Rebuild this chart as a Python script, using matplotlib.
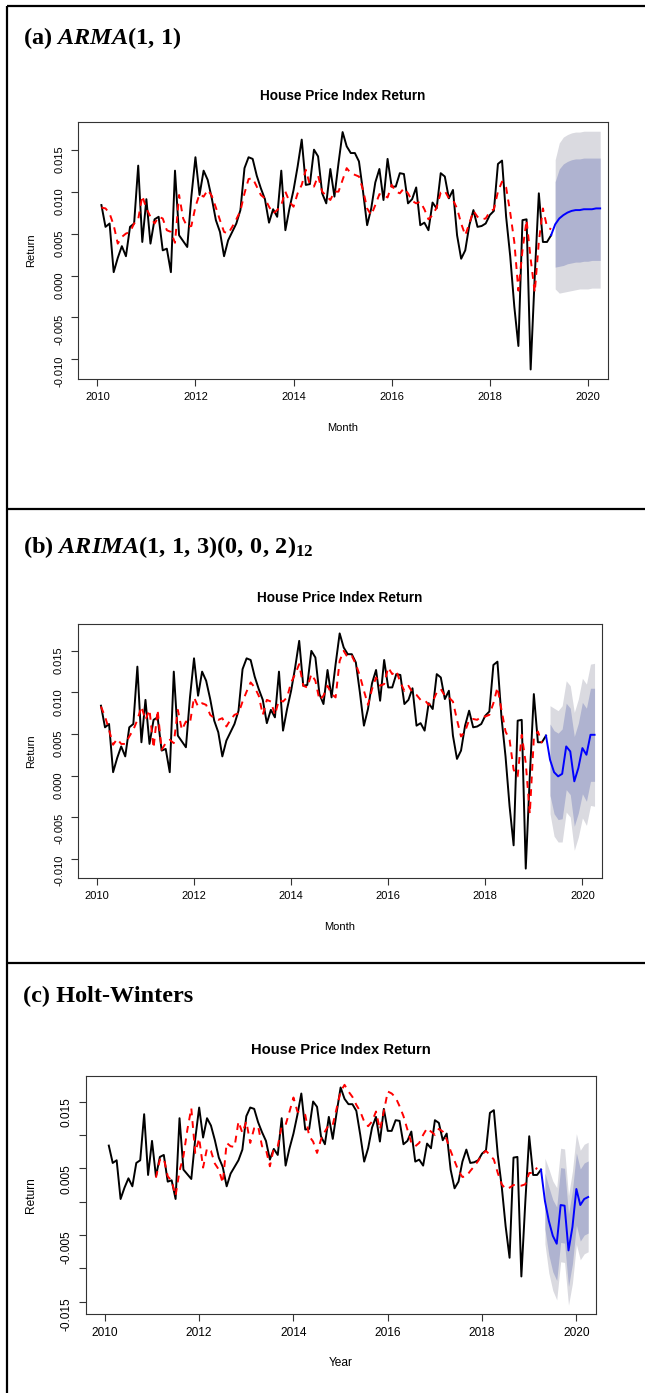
import numpy as np
import matplotlib
matplotlib.use('Agg')
import matplotlib.pyplot as plt

plt.rcParams['font.family'] = 'Liberation Sans'
plt.rcParams['axes.unicode_minus'] = False
plt.rcParams['mathtext.fontset'] = 'custom'
plt.rcParams['mathtext.rm'] = 'Liberation Serif:bold'
plt.rcParams['mathtext.it'] = 'Liberation Serif:italic:bold'
plt.rcParams['mathtext.bf'] = 'Liberation Serif:bold'

# monthly house price index returns, Feb 2010 .. Apr 2019
hpi_ret = [
    0.0084, 0.0058, 0.0062, 0.0004, 0.0021, 0.0035, 0.0023, 0.0058, 0.0062, 0.0131,
    0.0040, 0.0091, 0.0038, 0.0067, 0.0070, 0.0030, 0.0032, 0.0004, 0.0125, 0.0048,
    0.0041, 0.0034, 0.0094, 0.0141, 0.0096, 0.0125, 0.0114, 0.0092, 0.0066, 0.0052,
    0.0023, 0.0042, 0.0052, 0.0062, 0.0078, 0.0128, 0.0141, 0.0139, 0.0119, 0.0104,
    0.0091, 0.0063, 0.0079, 0.0070, 0.0125, 0.0054, 0.0080, 0.0102, 0.0130, 0.0162,
    0.0108, 0.0109, 0.0150, 0.0142, 0.0098, 0.0086, 0.0127, 0.0094, 0.0134, 0.0171,
    0.0154, 0.0146, 0.0146, 0.0136, 0.0100, 0.0060, 0.0080, 0.0111, 0.0127, 0.0090,
    0.0139, 0.0106, 0.0106, 0.0122, 0.0121, 0.0086, 0.0091, 0.0105, 0.0060, 0.0063,
    0.0054, 0.0087, 0.0080, 0.0122, 0.0118, 0.0092, 0.0102, 0.0048, 0.0020, 0.0030,
    0.0060, 0.0078, 0.0058, 0.0059, 0.0062, 0.0072, 0.0077, 0.0133, 0.0137, 0.0070,
    0.0023, -0.0037, -0.0084, 0.0066, 0.0067, -0.0112, -0.0001, 0.0098, 0.0040, 0.0040,
    0.0048,
]

# in-sample fitted values
fit_arma = [
    0.0081, 0.0080, 0.0074, 0.0060, 0.0038, 0.0046, 0.0050, 0.0052, 0.0062, 0.0067,
    0.0095, 0.0080, 0.0070, 0.0062, 0.0070, 0.0068, 0.0054, 0.0052, 0.0039, 0.0096,
    0.0068, 0.0058, 0.0059, 0.0082, 0.0097, 0.0094, 0.0102, 0.0095, 0.0081, 0.0066,
    0.0052, 0.0050, 0.0058, 0.0067, 0.0077, 0.0098, 0.0115, 0.0116, 0.0106, 0.0096,
    0.0092, 0.0082, 0.0074, 0.0078, 0.0084, 0.0100, 0.0088, 0.0082, 0.0098, 0.0108,
    0.0126, 0.0108, 0.0106, 0.0119, 0.0100, 0.0095, 0.0090, 0.0100, 0.0100, 0.0114,
    0.0128, 0.0122, 0.0120, 0.0118, 0.0102, 0.0080, 0.0072, 0.0084, 0.0097, 0.0096,
    0.0093, 0.0108, 0.0100, 0.0098, 0.0104, 0.0098, 0.0089, 0.0086, 0.0088, 0.0079,
    0.0067, 0.0072, 0.0081, 0.0099, 0.0101, 0.0092, 0.0090, 0.0080, 0.0062, 0.0048,
    0.0062, 0.0077, 0.0070, 0.0067, 0.0068, 0.0076, 0.0079, 0.0100, 0.0112, 0.0105,
    0.0075, 0.0040, -0.0018, 0.0030, 0.0066, 0.0020, -0.0020, 0.0040, 0.0080, 0.0058,
    0.0055,
]
fit_arima = [
    0.0083, 0.0071, 0.0055, 0.0037, 0.0044, 0.0038, 0.0038, 0.0047, 0.0055, 0.0067,
    0.0083, 0.0067, 0.0079, 0.0033, 0.0079, 0.0031, 0.0039, 0.0043, 0.0039, 0.0079,
    0.0055, 0.0065, 0.0063, 0.0094, 0.0083, 0.0087, 0.0085, 0.0073, 0.0069, 0.0067,
    0.0069, 0.0059, 0.0067, 0.0073, 0.0075, 0.0089, 0.0101, 0.0112, 0.0106, 0.0096,
    0.0073, 0.0091, 0.0089, 0.0073, 0.0091, 0.0089, 0.0094, 0.0112, 0.0122, 0.0134,
    0.0108, 0.0106, 0.0122, 0.0114, 0.0091, 0.0096, 0.0108, 0.0098, 0.0094, 0.0138,
    0.0150, 0.0142, 0.0144, 0.0134, 0.0120, 0.0102, 0.0085, 0.0104, 0.0118, 0.0108,
    0.0110, 0.0130, 0.0122, 0.0126, 0.0112, 0.0102, 0.0108, 0.0100, 0.0097, 0.0091,
    0.0091, 0.0085, 0.0089, 0.0100, 0.0104, 0.0096, 0.0094, 0.0089, 0.0067, 0.0047,
    0.0053, 0.0067, 0.0068, 0.0067, 0.0071, 0.0071, 0.0073, 0.0087, 0.0106, 0.0079,
    0.0053, 0.0043, 0.0007, -0.0001, 0.0049, 0.0015, -0.0046, 0.0045, 0.0053, 0.0039,
]
# Holt-Winters needs the first year to initialise, so fitted starts in Feb 2011
hw_start = 12
fit_hw = [
    0.0036, 0.0063, 0.0065, 0.0038, 0.0031, 0.0009, 0.0046, 0.0068, 0.0108, 0.0140,
    0.0073, 0.0095, 0.0051, 0.0080, 0.0076, 0.0057, 0.0048, 0.0028, 0.0088, 0.0083,
    0.0082, 0.0120, 0.0103, 0.0120, 0.0088, 0.0110, 0.0113, 0.0083, 0.0078, 0.0053,
    0.0080, 0.0083, 0.0113, 0.0115, 0.0135, 0.0156, 0.0135, 0.0133, 0.0130, 0.0098,
    0.0090, 0.0073, 0.0093, 0.0105, 0.0115, 0.0115, 0.0140, 0.0165, 0.0175, 0.0165,
    0.0157, 0.0145, 0.0135, 0.0120, 0.0113, 0.0120, 0.0135, 0.0108, 0.0135, 0.0165,
    0.0162, 0.0156, 0.0143, 0.0128, 0.0108, 0.0088, 0.0083, 0.0088, 0.0100, 0.0110,
    0.0105, 0.0100, 0.0109, 0.0105, 0.0093, 0.0076, 0.0061, 0.0046, 0.0037, 0.0038,
    0.0046, 0.0053, 0.0061, 0.0071, 0.0076, 0.0070, 0.0063, 0.0043, 0.0026, 0.0019,
    0.0021, 0.0025, 0.0025, 0.0024, 0.0026, 0.0043, 0.0043, 0.0051,
]

# 12-month forecasts: point forecast, 80% and 95% intervals
arma_mean = [0.0061, 0.0068, 0.0072, 0.0075, 0.0077, 0.0078, 0.0078, 0.0079, 0.0079, 0.0079, 0.0080, 0.0080]
arma_hi80 = [0.0112, 0.0127, 0.0133, 0.0136, 0.0138, 0.0139, 0.0139, 0.0140, 0.0140, 0.0140, 0.0140, 0.0140]
arma_lo80 = [0.0010, 0.0011, 0.0012, 0.0014, 0.0015, 0.0016, 0.0016, 0.0017, 0.0017, 0.0018, 0.0018, 0.0018]
arma_hi95 = [0.0138, 0.0158, 0.0165, 0.0168, 0.0170, 0.0171, 0.0171, 0.0172, 0.0172, 0.0172, 0.0172, 0.0172]
arma_lo95 = [-0.0016, -0.0021, -0.0020, -0.0019, -0.0018, -0.0017, -0.0016, -0.0016, -0.0016, -0.0015, -0.0015, -0.0015]

arima_mean = [0.0019, 0.0004, -0.0001, 0.0002, 0.0035, 0.0029, -0.0007, 0.0009, 0.0033, 0.0025, 0.0049, 0.0049]
arima_hi80 = [0.0062, 0.0054, 0.0051, 0.0056, 0.0087, 0.0081, 0.0047, 0.0063, 0.0088, 0.0081, 0.0105, 0.0105]
arima_lo80 = [-0.0024, -0.0046, -0.0053, -0.0052, -0.0017, -0.0023, -0.0061, -0.0045, -0.0022, -0.0031, -0.0007, -0.0007]
arima_hi95 = [0.0084, 0.0081, 0.0078, 0.0084, 0.0114, 0.0108, 0.0076, 0.0092, 0.0117, 0.0110, 0.0134, 0.0135]
arima_lo95 = [-0.0046, -0.0073, -0.0080, -0.0080, -0.0044, -0.0050, -0.0090, -0.0074, -0.0051, -0.0060, -0.0036, -0.0037]

hw_mean = [0.0001, -0.0029, -0.0051, -0.0063, -0.0005, -0.0006, -0.0073, -0.0038, 0.0019, -0.0005, 0.0004, 0.0007]
hw_hi80 = [0.0043, 0.0022, 0.0003, -0.0008, 0.0051, 0.0050, -0.0019, 0.0017, 0.0073, 0.0049, 0.0058, 0.0061]
hw_lo80 = [-0.0041, -0.0080, -0.0105, -0.0118, -0.0061, -0.0062, -0.0127, -0.0093, -0.0035, -0.0059, -0.0050, -0.0047]
hw_hi95 = [0.0065, 0.0049, 0.0031, 0.0021, 0.0080, 0.0079, 0.0009, 0.0046, 0.0102, 0.0077, 0.0086, 0.0089]
hw_lo95 = [-0.0063, -0.0107, -0.0133, -0.0147, -0.0090, -0.0091, -0.0155, -0.0122, -0.0064, -0.0087, -0.0078, -0.0075]

W, H = 645, 1393
fig = plt.figure(figsize=(W / 100, H / 100), dpi=100)


def fx(x):
    return x / W


def fy(y):
    return 1 - y / H


t_obs = 2010 + (np.arange(len(hpi_ret)) + 1) / 12
t_fc = t_obs[-1] + (np.arange(len(arma_mean)) + 1) / 12


def panel(box, fitted, fit_start, mean, lo80, hi80, lo95, hi95,
          xlab, fs, fs_title, yticks, ylabels):
    left, top, right, bottom = box
    ax = fig.add_axes([fx(left), fy(bottom), fx(right - left), (bottom - top) / H])
    t_fit = t_obs[fit_start:fit_start + len(fitted)]

    ax.fill_between(t_fc, lo95, hi95, color='#DADAE0', lw=0)
    ax.fill_between(t_fc, lo80, hi80, color='#AFB3D0', lw=0)
    ax.plot(t_obs, hpi_ret, color='black', lw=1.4)
    ax.plot(t_fit, fitted, color='red', lw=1.4, ls='--', dashes=(3.5, 3))
    ax.plot(np.r_[t_obs[-1], t_fc], np.r_[hpi_ret[-1], mean], color='blue', lw=1.4)

    # R style: 4% padding around the data range
    allv = np.concatenate([hpi_ret, fitted, lo95, hi95])
    span = allv.max() - allv.min()
    ax.set_ylim(allv.min() - 0.04 * span, allv.max() + 0.04 * span)
    ax.set_xlim(2009.6, 2020.41)

    ax.set_xticks(np.arange(2010, 2021, 2))
    ax.set_yticks(yticks)
    ax.set_yticklabels(ylabels)
    ax.tick_params(direction='out', length=4.7, width=0.8, labelsize=fs, pad=5,
                   color='#333333')
    ax.tick_params(axis='y', labelrotation=90)
    for s in ax.spines.values():
        s.set_linewidth(0.8)
        s.set_color('#333333')

    cx = (left + right) / 2
    fig.text(fx(cx), fy(top - 26), 'House Price Index Return', ha='center', va='center',
             fontsize=fs_title, fontweight='bold')
    fig.text(fx(cx), fy(bottom + 49), xlab, ha='center', va='center', fontsize=fs)
    fig.text(fx(31), fy((top + bottom) / 2), 'Return', ha='center', va='center',
             rotation=90, fontsize=fs)
    return ax


ticks_ab = [-0.010, -0.005, 0.0, 0.005, 0.010, 0.015]
labels_ab = ['%.3f' % v for v in ticks_ab]
ticks_c = [-0.015, -0.010, -0.005, 0.0, 0.005, 0.010, 0.015]
labels_c = ['-0.015', '', '-0.005', '', '0.005', '', '0.015']

panel((77.7, 121.7, 608, 379), fit_arma, 0, arma_mean, arma_lo80, arma_hi80,
      arma_lo95, arma_hi95, 'Month', 8, 9.8, ticks_ab, labels_ab)
panel((77.5, 624, 602.3, 878), fit_arima, 0, arima_mean, arima_lo80, arima_hi80,
      arima_lo95, arima_hi95, 'Month', 8, 9.8, ticks_ab, labels_ab)
panel((86, 1076, 595.7, 1314), fit_hw, hw_start, hw_mean, hw_lo80, hw_hi80,
      hw_lo95, hw_hi95, 'Year', 8.6, 10.6, ticks_c, labels_c)

# panel headings
head = dict(ha='left', va='center', fontsize=17.5, fontfamily='Liberation Serif',
            fontweight='bold')
fig.text(fx(22.6), fy(38.3), r'(a) $ARMA(1,\,1)$', **head)
fig.text(fx(22.6), fy(546.7), r'(b) $ARIMA(1,\,1,\,3)(0,\,0,\,2)_{12}$', **head)
fig.text(fx(22.6), fy(996), '(c) Holt-Winters', **head)

# table rules around the three panels
rule = dict(color='black', lw=1.6, solid_capstyle='butt')
fig.add_artist(plt.Line2D([fx(6.5), 1], [fy(5.5), fy(5.5)], **rule))
fig.add_artist(plt.Line2D([fx(6.5), fx(6.5)], [fy(5.5), 0], **rule))
fig.add_artist(plt.Line2D([fx(6.5), 1], [fy(509), fy(509)], **rule))
fig.add_artist(plt.Line2D([fx(6.5), 1], [fy(963), fy(963)], **rule))

fig.savefig('out.png', dpi=100)
